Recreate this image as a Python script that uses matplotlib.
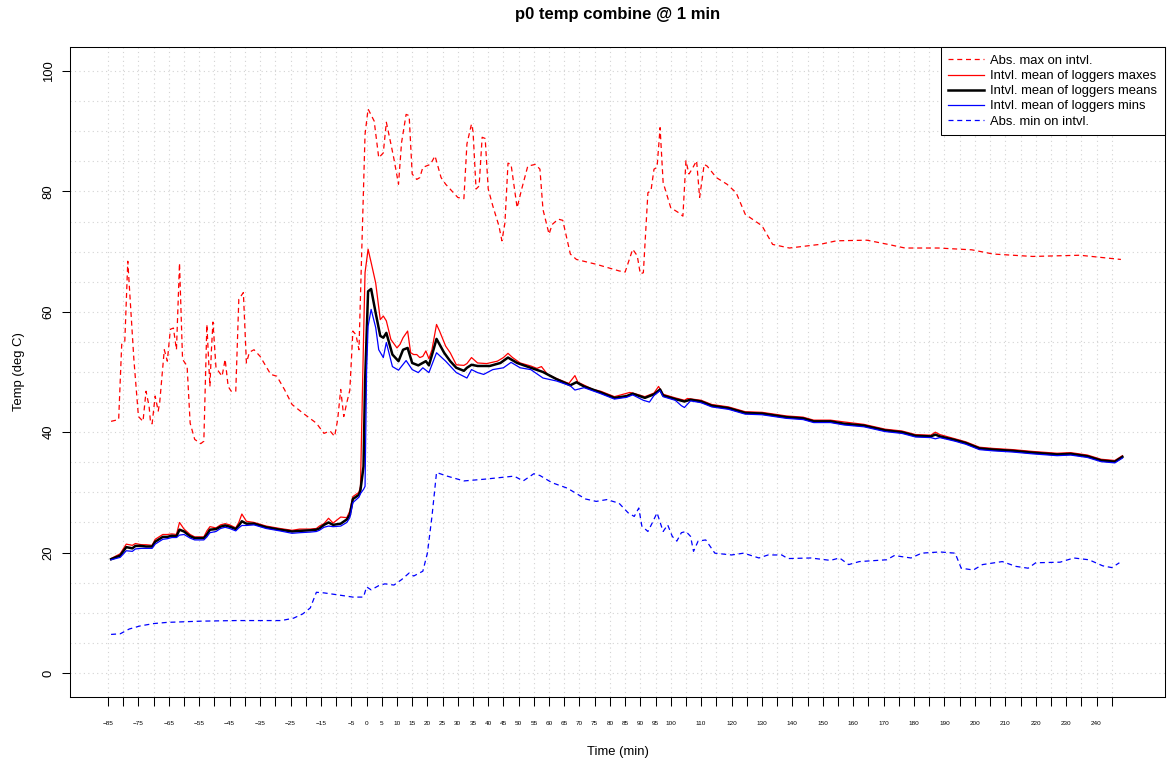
import matplotlib
matplotlib.use("Agg")
import matplotlib.pyplot as plt
import numpy as np

plt.rcParams['font.family'] = ['Liberation Sans', 'DejaVu Sans']

# absolute max over each interval
t_absmax = [-84, -81.5, -80.5, -79.5, -78.5, -76.5, -75, -73.5, -72.5, -71.5, -71, -70.5,
            -69.5, -68.5, -68, -66.5, -65.5, -64.5, -63.5, -62.5, -61.5, -60.5, -59, -58,
            -56.5, -54.5, -53.5, -52.5, -51.5, -51, -50.5, -49.5, -47.5, -46.5, -45.5, -44.5,
            -43, -42, -40.5, -39.5, -38.5, -37, -35, -31.5, -29.5, -27, -24.5, -21, -16.5,
            -14, -12, -10.5, -9.5, -8.5, -7.5, -6.5, -5.5, -4.5, -3.5, -2.5, -0.5, 0.5, 2.5,
            4, 5.5, 6.5, 8, 9, 10.5, 11.5, 13, 14, 15, 16.5, 17.5, 18.5, 21, 22.5, 24.5, 26,
            28, 30, 32, 33, 34.5, 35, 36, 37, 38, 39, 40, 41.5, 43.5, 44.5, 45.5, 46.5, 47.5,
            49.5, 51, 53, 55.5, 57, 58, 60, 61, 63, 64.5, 67, 69, 75.5, 83, 85, 87.5, 89, 90,
            91, 92.5, 93.5, 94.5, 95.5, 96.5, 97.5, 100, 102.5, 104, 105, 106, 107, 108.5,
            109.5, 111, 112, 115, 118.5, 121.5, 124.5, 130, 133.5, 139, 149, 154.5, 164.5,
            171.5, 177, 188, 199, 206, 219, 234.5, 248]
absmax = [41.8, 42.1, 54.6, 54.9, 68.4, 52.1, 42.6, 41.8, 46.8, 44.3, 41.5, 41.4,
          46.0, 43.5, 45.0, 53.7, 51.8, 57.1, 57.3, 53.7, 68.1, 52.1, 51.0, 41.5,
          38.8, 38.1, 38.5, 57.9, 47.6, 53.7, 58.3, 50.7, 49.3, 52.1, 47.6, 46.8,
          46.8, 62.1, 63.2, 51.5, 53.3, 53.7, 52.6, 49.6, 49.3, 47.1, 44.6, 43.2, 41.5,
          39.8, 40.2, 39.3, 42.1, 47.1, 42.6, 44.9, 47.0, 56.8, 56.2, 53.7, 89.5, 93.7, 91.7,
          85.6, 86.4, 91.5, 87.9, 85.4, 81.2, 88.1, 92.8, 92.6, 82.9, 82.0, 82.3, 84.0, 84.5, 85.9, 82.3, 81.2,
          80.1, 79.0, 78.8, 87.9, 91.2, 90.0, 80.4, 80.9, 89.0, 88.8, 80.4, 77.6, 74.3, 71.8, 74.8, 84.7, 84.5,
          77.3, 80.4, 84.2, 84.5, 83.7, 77.0, 72.9, 74.5, 75.4, 75.2, 69.6, 68.7, 67.9, 66.8, 66.6, 70.4, 69.3, 66.3,
          66.5, 79.8, 80.1, 83.7, 84.0, 90.6, 81.5, 77.3, 76.5, 75.9, 85.1, 82.9, 83.7, 85.1,
          79.0, 84.5, 84.2, 82.3, 81.2, 79.8, 76.2, 74.3, 71.2, 70.6, 71.2, 71.8, 71.9,
          71.2, 70.6, 70.6, 70.3, 69.6, 69.2, 69.4, 68.7]

# interval means of logger maxes / means / mins
t_mean = [-84, -81, -79, -77, -76, -74, -72.5, -70.5, -69.5, -67, -65.5, -64, -62.5, -61.5,
          -60, -58, -56.5, -53.5, -52.5, -51.5, -49.5, -48, -46.5, -45, -43, -42, -41, -39.5,
          -37, -33, -28.5, -24.5, -22, -18.5, -16.5, -15.5, -14, -12.5, -11, -8.5, -6.5,
          -5.5, -4.5, -2.5, -2, -1, -0.5, 0.5, 1.5, 3, 4.5, 5.5, 6.5, 8.5, 10.5, 12, 13.5,
          15, 17, 19.5, 20.5, 22, 23, 25.5, 27.5, 29.5, 32, 33, 34.5, 36.5, 40.5, 44, 46.5,
          49.5, 54, 58, 62.5, 67, 69, 71.5, 77, 81.5, 85.5, 87.5, 91.5, 94.5, 96.5, 97.5,
          101.5, 104.5, 106.5, 110, 113.5, 119, 124.5, 130, 138, 143.5, 147, 152.5, 157,
          163.5, 170.5, 176, 180.5, 185.5, 187, 188.5, 193.5, 197, 201.5, 206, 212.5, 219,
          227, 231.5, 237, 241.5, 246, 248.5]
mean_means = [18.9, 19.5, 20.9, 20.7, 21.1, 21.1, 21.0, 21.0, 21.8, 22.6, 22.6, 22.8, 22.7, 23.8,
              23.5, 22.7, 22.4, 22.4, 23.0, 23.8, 23.9, 24.3, 24.5, 24.3, 23.9, 24.5, 25.2, 24.8,
              24.8, 24.2, 23.8, 23.5, 23.6, 23.7, 23.8, 24.0, 24.6, 25.0, 24.6, 24.8, 25.5,
              26.3, 28.9, 29.6, 30.4, 34.3, 48.2, 63.4, 63.8, 59.8, 56.0, 55.7, 56.5, 52.9, 51.8, 53.7, 54.0,
              51.5, 51.1, 51.8, 51.1, 53.7, 55.5, 53.2, 51.8, 50.7, 50.2, 50.7, 51.2, 51.0, 51.0, 51.5, 52.4,
              51.5, 50.7, 50.0, 48.8, 47.8, 48.3, 47.6, 46.6, 45.7, 46.0, 46.4, 45.7, 46.3, 47.1, 46.1,
              45.5, 45.1, 45.4, 45.1, 44.4, 44.0, 43.2, 43.1, 42.5, 42.3, 41.8, 41.8, 41.4,
              41.1, 40.3, 40.0, 39.4, 39.3, 39.6, 39.3, 38.7, 38.2, 37.3, 37.1, 36.9, 36.6,
              36.3, 36.4, 36.0, 35.3, 35.1, 35.9]

t_maxes = [-84, -81, -79, -77, -76, -74, -72.5, -70.5, -69.5, -67, -65.5, -64, -62.5, -61.5,
           -60, -58, -56.5, -53.5, -52.5, -51.5, -49.5, -48, -46.5, -45, -43, -42, -41, -39.5,
           -37, -33, -28.5, -24.5, -22, -18.5, -16.5, -15.5, -14, -12.5, -11, -8.5, -6.5,
           -5.5, -4.5, -2.5, -2, -1, -0.5, 0.5, 1.5, 3, 4.5, 5.5, 6.5, 8, 10, 11, 12, 13.5,
           14.5, 15.5, 16.5, 17.5, 18.5, 19.5, 20.5, 21.5, 23, 24, 26, 27.5, 29.5, 32, 33,
           34.5, 36.5, 39.5, 43, 45, 46.5, 48, 50.5, 54, 56, 57.5, 59.5, 62.5, 66.5, 68.5,
           69.5, 74.5, 77, 81.5, 86.5, 87.5, 91.5, 94.5, 96, 97.5, 101.5, 104.5, 105.5, 110,
           113.5, 119, 124.5, 130, 138, 143.5, 147, 152.5, 157, 163.5, 170.5, 176, 180.5,
           185.5, 187, 188.5, 193.5, 197, 201.5, 206, 212.5, 219, 227, 231.5, 237, 241.5,
           246, 248.5]
mean_maxes = [19.0, 19.8, 21.4, 21.2, 21.5, 21.3, 21.3, 21.2, 22.2, 23.0, 23.0, 23.1, 23.0, 25.0,
              23.9, 23.0, 22.6, 22.6, 23.6, 24.3, 24.1, 24.6, 24.8, 24.6, 24.1, 25.0, 26.4, 25.2,
              25.0, 24.4, 24.0, 23.7, 23.9, 23.9, 24.0, 24.4, 24.8, 25.7, 24.9, 25.9, 25.8,
              26.9, 29.3, 30.0, 31.0, 55.4, 66.5, 70.4, 68.2, 64.8, 58.7, 59.3, 58.5, 55.4, 54.0, 54.6, 55.7, 56.8,
              53.2, 52.9, 52.9, 52.4, 52.6, 53.5, 52.2, 53.7, 57.9, 56.8, 54.3, 53.2, 51.2, 51.1, 51.4,
              52.4, 51.5, 51.4, 51.8, 52.4, 53.1, 52.4, 51.5, 51.0, 50.6, 50.9, 49.6, 48.9, 48.1, 49.4,
              48.3, 47.1, 46.8, 45.9, 46.6, 46.5, 45.9, 46.5, 47.6, 46.3, 45.7, 45.3, 45.6, 45.3,
              44.6, 44.2, 43.4, 43.3, 42.7, 42.5, 42.0, 42.0, 41.7, 41.3, 40.5, 40.2, 39.6,
              39.5, 40.0, 39.6, 38.9, 38.4, 37.5, 37.3, 37.1, 36.8, 36.5, 36.6, 36.2, 35.5,
              35.3, 36.1]

t_mins = [-84, -81, -79, -77, -76, -74, -72.5, -70.5, -69.5, -67, -65.5, -64, -62.5, -61.5,
          -60, -58, -56.5, -53.5, -52.5, -51.5, -49.5, -48, -46.5, -45, -43, -42, -41, -39.5,
          -37, -33, -28.5, -24.5, -22, -18.5, -16.5, -15.5, -14, -12.5, -11, -8.5, -6.5,
          -5.5, -4.5, -2.5, -2, -1, -0.5, 0, 0.5, 1.5, 3, 4, 5.5, 6.5, 8.5, 10.5, 13, 15,
          17, 18.5, 20.5, 23, 26, 29.5, 33, 34.5, 36.5, 38.5, 41.5, 45, 47.5, 50.5, 54, 58,
          62.5, 67, 68.5, 71.5, 77, 81.5, 85.5, 87.5, 91, 93, 94.5, 96.5, 97.5, 101.5, 103.5,
          104.5, 106.5, 110, 113.5, 119, 124.5, 130, 138, 143.5, 147, 152.5, 157, 163.5,
          170.5, 176, 180.5, 185.5, 187, 188.5, 193.5, 197, 201.5, 206, 212.5, 219, 227,
          231.5, 237, 241.5, 246, 248.5]
mean_mins = [18.8, 19.2, 20.3, 20.2, 20.6, 20.7, 20.7, 20.7, 21.4, 22.2, 22.3, 22.5, 22.5, 22.9,
             23.0, 22.4, 22.1, 22.1, 22.6, 23.3, 23.5, 24.0, 24.2, 24.0, 23.6, 24.1, 24.5, 24.5,
             24.6, 24.0, 23.6, 23.2, 23.3, 23.4, 23.5, 23.7, 24.2, 24.4, 24.3, 24.4, 25.0,
             25.8, 28.3, 29.2, 29.8, 30.5, 31.0, 50.0, 57.6, 60.4, 57.4, 53.7, 52.4, 54.9, 50.9, 50.3, 51.9, 50.4,
             49.9, 50.7, 49.9, 53.2, 51.8, 49.9, 49.0, 50.4, 49.9, 49.6, 50.4, 50.7, 51.6, 50.7, 50.4, 49.0,
             48.5, 47.7, 47.0, 47.4, 46.4, 45.5, 45.8, 46.2, 45.3, 45.0, 46.1, 46.9, 45.9, 45.3, 44.4,
             44.1, 45.2, 44.9, 44.2, 43.8, 43.0, 42.9, 42.3, 42.1, 41.6, 41.6, 41.2, 40.9,
             40.1, 39.8, 39.2, 39.1, 38.9, 39.1, 38.5, 38.0, 37.1, 36.9, 36.7, 36.4, 36.1,
             36.2, 35.8, 35.1, 34.9, 35.7]

# absolute min over each interval
t_absmin = [-84, -81, -78, -74.5, -70, -65.5, -54.5, -43, -28, -24, -21, -18.5, -16.5, -14,
            -8.5, -4.5, -1, 0, 1.5, 4, 6, 9, 11.5, 14, 15.5, 18.5, 20, 21.5, 23, 26.5, 32, 39,
            48.5, 51.5, 55, 57, 61, 66, 72, 75.5, 79, 83, 86, 88, 89.5, 90.5, 92.5, 94, 95.5,
            97.5, 99, 100.5, 102, 103.5, 105, 106.5, 107.5, 109, 111.5, 114.5, 120, 124, 129,
            132, 136.5, 138.5, 146, 152.5, 155.5, 158.5, 162, 171, 173.5, 179, 182.5, 188.5,
            193.5, 195.5, 199.5, 202.5, 209, 213.5, 217.5, 220, 228, 232.5, 237.5, 242, 245,
            247.5]
absmin = [6.4, 6.5, 7.3, 7.8, 8.2, 8.4, 8.6, 8.7, 8.7, 9.1, 9.8, 10.8, 13.4, 13.3,
          12.9, 12.6, 12.6, 14.3, 13.8, 14.5, 14.8, 14.6, 15.5, 16.6, 16.1, 16.9, 19.9, 26.0, 33.3, 32.7, 31.9, 32.2,
          32.7, 31.9, 33.1, 32.8, 31.6, 30.7, 28.9, 28.5, 28.8, 28.2, 26.6, 26.0, 27.4, 24.4, 23.5, 25.0, 26.6,
          23.5, 24.6, 22.7, 21.9, 23.3, 23.5, 22.7, 20.2, 21.9, 22.1, 19.9, 19.6, 19.9, 19.1,
          19.6, 19.6, 19.0, 19.1, 18.7, 19.1, 18.0, 18.5, 18.8, 19.5, 19.1, 19.9, 20.1,
          19.9, 17.4, 17.1, 18.0, 18.5, 17.7, 17.4, 18.3, 18.4, 19.1, 18.8, 17.8, 17.5,
          18.3]

# axis ticks every 5 min, labels thinned where they would crowd
tick_pos = list(range(-85, 250, 5))
tick_lab = []
for t in tick_pos:
    if t < 0:
        tick_lab.append(str(t).replace('-', '\u2212') if t % 10 != 0 else '')
    elif t <= 100:
        tick_lab.append(str(t))
    else:
        tick_lab.append(str(t) if t % 10 == 0 else '')

fs = 9.4

fig = plt.figure(figsize=(11.68, 7.65), dpi=100)
ax = fig.add_axes([70/1168, 1 - 697/765, 1095/1168, 650/765])

# grid
for t in tick_pos:
    ax.axvline(t, color='#d3d3d3', lw=0.8, ls=(0, (1, 3)), zorder=0)
for v in range(0, 101, 5):
    ax.axhline(v, color='#d3d3d3', lw=0.8, ls=(0, (1, 3)), zorder=0)

ax.plot(t_absmax, absmax, color='red', lw=0.9, ls=(0, (4, 3)), label='Abs. max on intvl.')
ax.plot(t_maxes, mean_maxes, color='red', lw=0.9, label='Intvl. mean of loggers maxes')
ax.plot(t_mean, mean_means, color='black', lw=1.8, label='Intvl. mean of loggers means')
ax.plot(t_mins, mean_mins, color='blue', lw=0.9, label='Intvl. mean of loggers mins')
ax.plot(t_absmin, absmin, color='blue', lw=0.9, ls=(0, (4, 3)), label='Abs. min on intvl.')

ax.set_xlim(-97.5, 262.5)
ax.set_ylim(-4, 104)

ax.set_xticks(tick_pos)
ax.set_xticklabels(tick_lab, fontsize=4.6)
ax.set_yticks([0, 20, 40, 60, 80, 100])
ax.set_yticklabels(['0', '20', '40', '60', '80', '100'], fontsize=fs, rotation=90, va='center')
ax.tick_params(axis='x', length=6.5, width=0.75, pad=11)
ax.tick_params(axis='y', length=6, width=0.75, pad=5)
for s in ax.spines.values():
    s.set_linewidth(0.75)

ax.set_title('p0 temp combine @ 1 min', fontsize=12, fontweight='bold', pad=20)
ax.set_xlabel('Time (min)', fontsize=fs, labelpad=14)
ax.set_ylabel('Temp (deg C)', fontsize=fs, labelpad=13)

leg = ax.legend(loc='upper right', fontsize=fs, borderaxespad=0, fancybox=False,
                edgecolor='black', framealpha=1, handlelength=2.75, handletextpad=0.45,
                labelspacing=0.23, borderpad=0.6)
leg.get_frame().set_linewidth(0.75)

fig.savefig('out.png', dpi=100)
